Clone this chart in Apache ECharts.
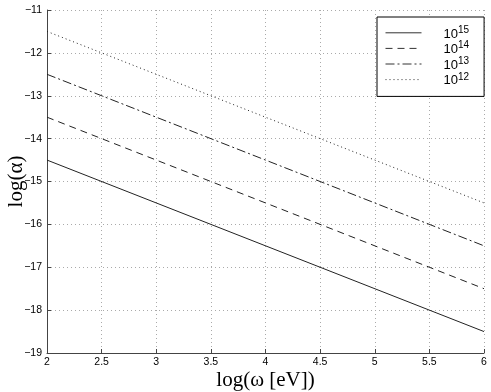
<!DOCTYPE html>
<html>
<head>
<meta charset="utf-8">
<script src="https://cdn.jsdelivr.net/npm/echarts@6/dist/echarts.min.js"></script>
<style>
  html, body { margin: 0; padding: 0; background: #fff; }
  #chart { width: 491px; height: 392px; }
</style>
</head>
<body>
<div id="chart"></div>
<script>
// log(omega) at both ends of each line
const xValues = [2, 6];
// log(alpha) for each density
const n15 = [-14.5, -18.5];
const n14 = [-13.5, -17.5];
const n13 = [-12.5, -16.5];
const n12 = [-11.5, -15.5];
const exponents = ["15", "14", "13", "12"];
const lineTypes = ["solid", [7, 5], [9, 3, 2, 3], [1, 3]];

const chart = echarts.init(document.getElementById("chart"));

const seriesValues = [n15, n14, n13, n12];
const series = seriesValues.map((vals, i) => ({
  name: exponents[i],
  type: "line",
  symbol: "none",
  silent: true,
  data: vals.map((v, j) => [xValues[j], v]),
  lineStyle: { color: "#222", width: 1, type: lineTypes[i] },
  itemStyle: { color: "#222" },
}));

const tickFont = { fontFamily: "Liberation Sans, Arial, sans-serif", fontSize: 10.5, color: "#000" };
const nameFont = { fontFamily: "Liberation Serif, Times New Roman, serif", fontSize: 21, color: "#000" };
const minus = (v) => String(v).replace("-", "\u2212");

chart.setOption({
  animation: false,
  grid: { left: 47, right: 7, top: 10, bottom: 39, outerBoundsMode: "none", containLabel: false },
  xAxis: {
    type: "value",
    min: 2,
    max: 6,
    interval: 0.5,
    name: "log(\u03c9 [eV])",
    nameLocation: "middle",
    nameGap: 17,
    nameMoveOverlap: false,
    nameTextStyle: nameFont,
    axisLine: { lineStyle: { color: "#444", width: 1 } },
    axisTick: { inside: true, length: 4, lineStyle: { color: "#444" } },
    axisLabel: { ...tickFont, margin: 4, formatter: minus },
    splitLine: { show: true, lineStyle: { color: "#aaa", type: [1, 3], width: 1 } },
  },
  yAxis: {
    type: "value",
    min: -19,
    max: -11,
    interval: 1,
    name: "log(\u03b1)",
    nameLocation: "middle",
    nameGap: 20,
    nameMoveOverlap: false,
    nameTextStyle: nameFont,
    axisLine: { show: true, lineStyle: { color: "#444", width: 1 } },
    axisTick: { show: true, inside: true, length: 4, lineStyle: { color: "#444" } },
    axisLabel: { ...tickFont, margin: 5, formatter: minus },
    splitLine: { show: true, lineStyle: { color: "#aaa", type: [1, 3], width: 1 } },
  },
  legend: {
    orient: "vertical",
    left: 377,
    top: 17,
    padding: [8, 15, 9, 8],
    itemGap: 0,
    itemWidth: 36,
    itemHeight: 15.6,
    backgroundColor: "#fff",
    borderColor: "#000",
    borderWidth: 1,
    selectedMode: false,
    itemStyle: { opacity: 0, borderWidth: 0 },
    lineStyle: { width: 1, color: "#333" },
    formatter: (name) => "{b|10}{s|" + name + "}",
    textStyle: {
      padding: [0, 0, 0, 17],
      rich: {
        b: { fontFamily: "Liberation Sans, Arial, sans-serif", fontSize: 13, color: "#000", lineHeight: 15.6, verticalAlign: "bottom" },
        s: { fontFamily: "Liberation Sans, Arial, sans-serif", fontSize: 10, color: "#000", lineHeight: 15.6, verticalAlign: "top" },
      },
    },
    data: exponents,
  },
  series: series,
});
</script>
</body>
</html>
